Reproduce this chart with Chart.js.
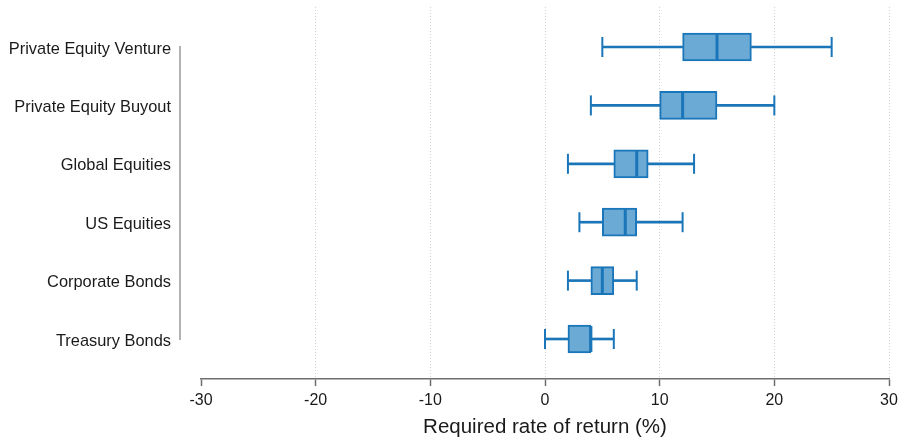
<!DOCTYPE html>
<html>
<head>
<meta charset="utf-8">
<script src="https://cdn.jsdelivr.net/npm/chart.js@4/dist/chart.umd.min.js"></script>
<style>
  html, body { margin: 0; padding: 0; background: #ffffff; }
  #wrap { width: 902px; height: 438px; }
</style>
</head>
<body>
<div id="wrap"><canvas id="c" width="902" height="438"></canvas></div>
<script>
// ---- data (top to bottom) ----
const categories = ["Private Equity Venture", "Private Equity Buyout", "Global Equities", "US Equities", "Corporate Bonds", "Treasury Bonds"];
const whiskerMin = [5, 4, 2, 3, 2, 0];
const quartile1  = [12, 10, 6, 5, 4, 2];
const medians    = [15, 12, 8, 7, 5, 4];
const quartile3  = [18, 15, 9, 8, 6, 4];
const whiskerMax = [25, 20, 13, 12, 8, 6];
const xTicks = [-30, -20, -10, 0, 10, 20, 30];
const xTitle = "Required rate of return (%)";

const lineBlue = "rgb(26,118,184)";
const fillBlue = "rgb(106,170,213)";
const n = categories.length;
const pos = i => n - i;

const boxData = categories.map((c, i) => ({ x: [quartile1[i], quartile3[i]], y: pos(i) }));
const lowData = categories.map((c, i) => ({ x: [whiskerMin[i], quartile1[i]], y: pos(i) }));
const highData = categories.map((c, i) => ({ x: [quartile3[i], whiskerMax[i]], y: pos(i) }));
const medData = categories.map((c, i) => ({ x: medians[i], y: pos(i) }));
const capData = [];
categories.forEach((c, i) => { capData.push({ x: whiskerMin[i], y: pos(i) }); capData.push({ x: whiskerMax[i], y: pos(i) }); });

const yAxisLine = {
  id: 'yAxisLine',
  afterDraw(chart) {
    const y = chart.scales.y, ctx = chart.ctx;
    const x0 = chart.chartArea.left - 21;
    ctx.save();
    ctx.strokeStyle = '#9a9a9a';
    ctx.lineWidth = 1.5;
    ctx.beginPath();
    ctx.moveTo(x0, y.getPixelForValue(n) - 1);
    ctx.lineTo(x0, y.getPixelForValue(1) + 1);
    ctx.stroke();
    ctx.restore();
  }
};

const zeroPad = s => { s.paddingTop = 0; s.paddingBottom = 0; s.paddingLeft = 0; s.paddingRight = 0; };

new Chart(document.getElementById('c'), {
  type: 'bar',
  data: {
    datasets: [
      { type: 'scatter', data: medData, pointStyle: 'line', pointRotation: 90, pointRadius: 13,
        pointBorderWidth: 3, pointBorderColor: lineBlue, pointBackgroundColor: lineBlue, order: 0 },
      { type: 'bar', indexAxis: 'y', data: boxData, grouped: false, barThickness: 28,
        backgroundColor: fillBlue, borderColor: lineBlue, borderWidth: 2, borderSkipped: false, order: 1 },
      { type: 'bar', indexAxis: 'y', data: lowData, grouped: false, barThickness: 2,
        backgroundColor: lineBlue, borderWidth: 0, order: 2 },
      { type: 'bar', indexAxis: 'y', data: highData, grouped: false, barThickness: 2,
        backgroundColor: lineBlue, borderWidth: 0, order: 2 },
      { type: 'scatter', data: capData, pointStyle: 'line', pointRotation: 90, pointRadius: 10,
        pointBorderWidth: 2, pointBorderColor: lineBlue, pointBackgroundColor: lineBlue, order: 3 }
    ]
  },
  options: {
    responsive: false,
    animation: false,
    events: [],
    layout: { autoPadding: false, padding: { top: 7, right: 13, left: 0, bottom: 0 } },
    plugins: { legend: { display: false }, tooltip: { enabled: false } },
    scales: {
      x: {
        type: 'linear', position: 'bottom', min: -30, max: 30, offset: false,
        afterBuildTicks: s => { s.ticks = xTicks.map(v => ({ value: v })); },
        afterFit: s => { s.height = 59; zeroPad(s); },
        ticks: { color: '#1a1a1a', padding: 5, maxRotation: 0, font: { family: 'Liberation Sans', size: 16 } },
        grid: {
          offset: false,
          color: ctx => (ctx.tick && ctx.tick.value === -30) ? 'rgba(0,0,0,0)' : '#d2d2d2',
          lineWidth: 1, tickColor: '#6e6e6e', tickLength: 7, tickWidth: 1.5
        },
        border: { display: true, color: '#6e6e6e', width: 1.5, dash: [1, 2] },
        title: { display: true, text: xTitle, color: '#1a1a1a', padding: { top: 0, bottom: 0 },
                 font: { family: 'Liberation Sans', size: 20.5, lineHeight: 1 } }
      },
      y: {
        type: 'linear', position: 'left', min: 0.315, max: 6.685, offset: false,
        afterBuildTicks: s => { s.ticks = categories.map((c, i) => ({ value: pos(i) })); },
        afterFit: s => { s.width = 201; zeroPad(s); },
        ticks: { color: '#1a1a1a', padding: 22, labelOffset: 2, font: { family: 'Liberation Sans', size: 16.4 },
                 callback: v => categories[n - v] },
        grid: { display: false, offset: false },
        border: { display: false }
      }
    }
  },
  plugins: [yAxisLine]
});
</script>
</body>
</html>
